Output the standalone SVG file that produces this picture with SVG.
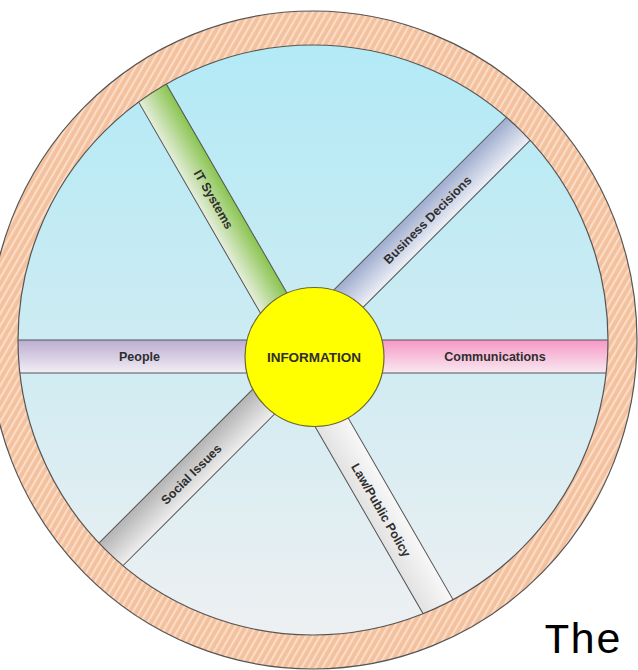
<svg xmlns="http://www.w3.org/2000/svg" width="638" height="670" viewBox="0 0 638 670">
<defs>
<pattern id="hatch" patternUnits="userSpaceOnUse" width="6" height="6" patternTransform="rotate(30)">
<rect width="6" height="6" fill="#f3c19d"/>
<rect x="0" y="0" width="2.2" height="6" fill="#fadcc7"/>
</pattern>
<linearGradient id="gInner" x1="0" y1="0" x2="0" y2="1">
<stop offset="0" stop-color="#b2eaf6"/>
<stop offset="0.5" stop-color="#cdebf2"/>
<stop offset="1" stop-color="#eef0f2"/>
</linearGradient>
<linearGradient id="gPeople" x1="0" y1="0" x2="0" y2="1">
<stop offset="0" stop-color="#bcadd2"/>
<stop offset="1" stop-color="#f2eef5"/>
</linearGradient>
<linearGradient id="gComm" x1="0" y1="0" x2="0" y2="1">
<stop offset="0" stop-color="#f798c5"/>
<stop offset="1" stop-color="#f8e9f1"/>
</linearGradient>
<linearGradient id="gIT" x1="0" y1="0" x2="0" y2="1">
<stop offset="0" stop-color="#89c44f"/>
<stop offset="1" stop-color="#e6eedc"/>
</linearGradient>
<linearGradient id="gBiz" x1="0" y1="0" x2="0" y2="1">
<stop offset="0" stop-color="#9eacce"/>
<stop offset="1" stop-color="#eef0f6"/>
</linearGradient>
<linearGradient id="gSoc" x1="0" y1="0" x2="0" y2="1">
<stop offset="0" stop-color="#b3b3b3"/>
<stop offset="1" stop-color="#efefef"/>
</linearGradient>
<linearGradient id="gLaw" x1="0" y1="0" x2="0" y2="1">
<stop offset="0" stop-color="#f8f8f8"/>
<stop offset="1" stop-color="#e2e2e2"/>
</linearGradient>
</defs>
<style>
.bar{stroke:#555;stroke-width:1}
.lbl{font-family:"Liberation Sans",Arial,sans-serif;font-weight:bold;font-size:12.5px;fill:#2e2e2e;text-anchor:middle}
.ctr{font-size:13.5px}
</style>

<g id="wheel-inner">
<circle cx="313" cy="340" r="295" fill="url(#gInner)"/>
</g>

<g id="spoke-people">
<rect class="bar" x="14" y="340" width="306" height="33" fill="url(#gPeople)"/>
<text class="lbl" x="139.5" y="361">People</text>
</g>

<g id="spoke-communications">
<rect class="bar" x="308" y="340" width="301" height="33" fill="url(#gComm)"/>
<text class="lbl" x="495" y="361">Communications</text>
</g>

<g id="spoke-it-systems" transform="translate(153 94) rotate(60)">
<rect class="bar" x="-4" y="-16.5" width="294" height="33" fill="url(#gIT)"/>
<text class="lbl" x="121.5" y="4.5">IT Systems</text>
</g>

<g id="spoke-business-decisions" transform="translate(517.2 129.9) rotate(-45)">
<rect class="bar" x="-280" y="-16.5" width="284" height="33" fill="url(#gBiz)"/>
<text class="lbl" x="-127" y="4.5">Business Decisions</text>
</g>

<g id="spoke-social-issues" transform="translate(113.4 551.9) rotate(-45)">
<rect class="bar" x="-5" y="-16.5" width="290" height="33" fill="url(#gSoc)"/>
<text class="lbl" x="110" y="4.5">Social Issues</text>
</g>

<g id="spoke-law-public-policy" transform="translate(438 606.5) rotate(60)">
<rect class="bar" x="-290" y="-16.5" width="294" height="33" fill="url(#gLaw)"/>
<text class="lbl" x="-112" y="5.5">Law/Public Policy</text>
</g>

<g id="wheel-rim">
<path d="M313 11 A324 329 0 1 0 313 669 A324 329 0 1 0 313 11 Z M313 45 A295 295 0 1 1 313 635 A295 295 0 1 1 313 45 Z" fill="url(#hatch)" fill-rule="evenodd" stroke="#555" stroke-width="1.2"/>
</g>

<g id="information">
<circle cx="314.5" cy="357" r="69.5" fill="#ffff00" stroke="#6a6a30" stroke-width="1.2"/>
<text class="lbl ctr" x="314" y="361.5">INFORMATION</text>
</g>

<text x="544" y="653" font-family="Liberation Mono, Courier New, monospace" font-size="43" fill="#000">The</text>
</svg>
